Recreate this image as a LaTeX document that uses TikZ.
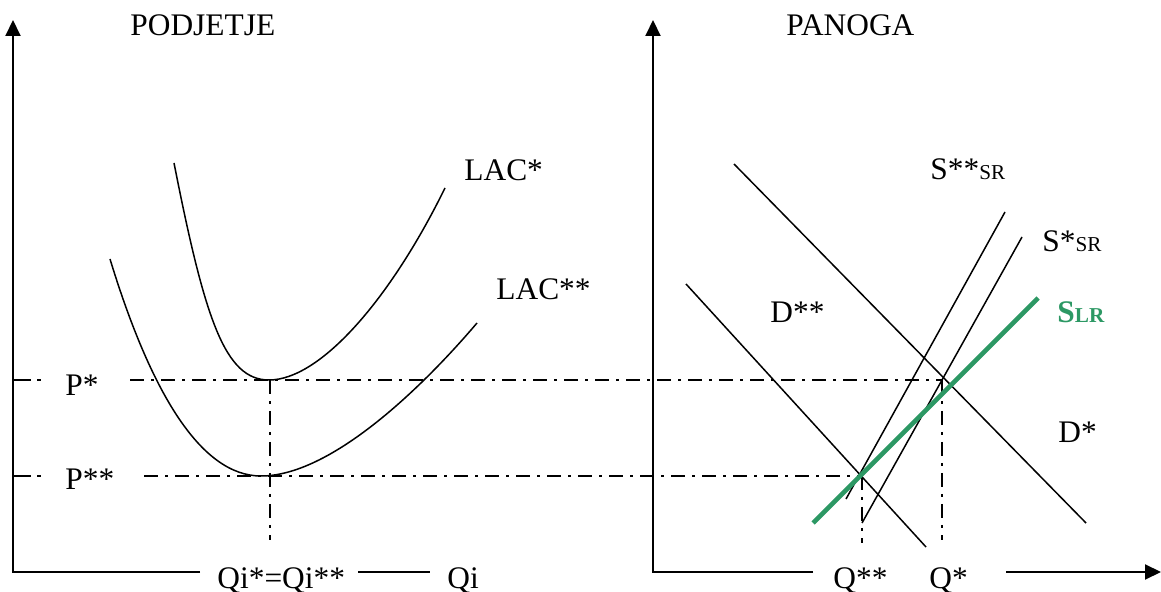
\documentclass[tikz,border=0pt]{standalone}
\usepackage{fontspec}
\setmainfont{Liberation Serif}
\usetikzlibrary{arrows.meta}
\definecolor{lrgreen}{RGB}{44,152,100}
\newcommand{\subsz}[1]{{\fontsize{10.6}{11}\selectfont #1}}
\begin{document}
\begin{tikzpicture}[x=0.5pt,y=-0.5pt,
  lbl/.style={inner sep=0pt, anchor=base west, font=\fontsize{15.7}{18}\selectfont},
  ax/.style={line width=1pt},
  arr/.style={-{Triangle[length=8pt,width=7.5pt]}},
  curve/.style={line width=0.75pt},
  dd/.style={line width=0.75pt, dash pattern=on 7pt off 3.5pt on 1.5pt off 3.5pt},
  green/.style={line width=2.3pt, draw=lrgreen}]
\useasboundingbox (0,0) rectangle (1161,592);
% ---------- left panel axes ----------
\coordinate (o1) at (13,572);
\coordinate (y1) at (13,20);
\coordinate (x1a) at (200,572);
\coordinate (x1b) at (358,572);
\coordinate (x1c) at (430,572);
\draw[ax,arr] (x1a) -- (o1) -- (y1);
\draw[ax] (x1b) -- (x1c);
% ---------- right panel axes ----------
\coordinate (o2) at (653,572);
\coordinate (y2) at (653,20);
\coordinate (x2a) at (813,572);
\coordinate (x2b) at (1006,572);
\coordinate (x2c) at (1161,572);
\draw[ax,arr] (x2a) -- (o2) -- (y2);
\draw[ax,arr] (x2b) -- (x2c);
% ---------- titles ----------
\node[lbl] (tpod) at (130,36) {PODJETJE};
\node[lbl] (tpan) at (786,36) {PANOGA};
% ---------- LAC curves ----------
\coordinate (lacS1) at (174,163);
\coordinate (lacSm) at (269,380);
\coordinate (lacS2) at (445,188);
\draw[curve] (lacS1) .. controls (205,320) and (225,380) .. (lacSm)
  .. controls (320,380) and (390,300) .. (lacS2);
\coordinate (lacD1) at (110,259);
\coordinate (lacDm) at (261,476);
\coordinate (lacD2) at (477,323);
\draw[curve] (lacD1) .. controls (150,390) and (200,476) .. (lacDm)
  .. controls (330,476) and (420,390) .. (lacD2);
\node[lbl] (llacs) at (464,181) {LAC*};
\node[lbl] (llacd) at (496,300) {LAC**};
% ---------- price lines ----------
\coordinate (ps0) at (13,380);
\coordinate (ps1) at (41,380);
\coordinate (ps2) at (130,380);
\coordinate (ps3) at (943,380);
\draw[line width=0.75pt, dash pattern=on 9pt off 3pt] (ps0) -- (ps1);
\draw[dd] (ps2) -- (ps3);
\coordinate (pd0) at (13,476);
\coordinate (pd1) at (41,476);
\coordinate (pd2) at (144,476);
\coordinate (pd3) at (860,476);
\draw[line width=0.75pt, dash pattern=on 9pt off 3pt] (pd0) -- (pd1);
\draw[dd] (pd2) -- (pd3);
\node[lbl] (lps) at (65,396) {P*};
\node[lbl] (lpd) at (65,490) {P**};
% ---------- vertical quantity lines ----------
\coordinate (qi1) at (270,380);
\coordinate (qi2) at (270,540);
\draw[dd] (qi1) -- (qi2);
\coordinate (qd1) at (862,476);
\coordinate (qd2) at (862,543);
\draw[dd] (qd1) -- (qd2);
\coordinate (qs1) at (942,380);
\coordinate (qs2) at (942,540);
\draw[dd] (qs1) -- (qs2);
% ---------- demand lines ----------
\coordinate (ds1) at (734,164);
\coordinate (ds2) at (1086,523);
\draw[curve] (ds1) -- (ds2);
\coordinate (dd1) at (686,284);
\coordinate (dd2) at (926,547);
\draw[curve] (dd1) -- (dd2);
% ---------- supply lines ----------
\coordinate (ssd1) at (846,499);
\coordinate (ssd2) at (1005,212);
\draw[curve] (ssd1) -- (ssd2);
\coordinate (sss1) at (862,523);
\coordinate (sss2) at (1022,237);
\draw[curve] (sss1) -- (sss2);
\coordinate (slr1) at (813,523);
\coordinate (slr2) at (1038,298);
\draw[green] (slr1) -- (slr2);
% ---------- right labels ----------
\node[lbl] (lssd) at (930,180) {S**\subsz{SR}};
\node[lbl] (lsss) at (1042,252) {S*\subsz{SR}};
\node[lbl, text=lrgreen] (lslr) at (1057,323) {\textbf{S\subsz{LR}}};
\node[lbl] (ldd) at (770,323) {D**};
\node[lbl] (lds) at (1058,443) {D*};
% ---------- axis labels ----------
\node[lbl] (lqi) at (217,588) {Qi*=Qi**};
\node[lbl] (lqq) at (447,588) {Qi};
\node[lbl] (lqd) at (833,588) {Q**};
\node[lbl] (lqs) at (929,588) {Q*};
\end{tikzpicture}
\end{document}
